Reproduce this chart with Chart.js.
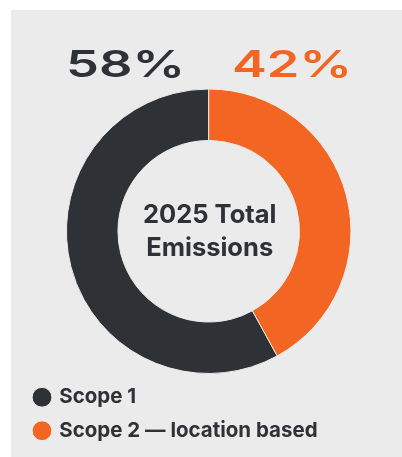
<!DOCTYPE html>
<html>
<head>
<meta charset="utf-8">
<script src="https://cdn.jsdelivr.net/npm/chart.js@4/dist/chart.umd.min.js"></script>
<style>
  html, body { margin: 0; padding: 0; background: #ffffff; }
  #panel { position: absolute; left: 11px; top: 10px; width: 391px; height: 447px; background: #ebebeb; }
  canvas { display: block; }
</style>
</head>
<body>
<div id="panel"><canvas id="c" width="391" height="447"></canvas></div>
<script>
const categories = ['Scope 1', 'Scope 2 \u2014 location based'];
const shares = [58, 42];
const colors = ['#2e3136', '#f26522'];
const centerLines = ['2025 Total', 'Emissions'];

const textDark = '#2e3136';
const panelBg = '#ebebeb';
const total = shares.reduce((a, b) => a + b, 0);

function drawWide(ctx, text, cx, baseline, targetW, font, color) {
  ctx.save();
  ctx.font = font;
  ctx.fillStyle = color;
  ctx.textAlign = 'left';
  ctx.textBaseline = 'alphabetic';
  const w = ctx.measureText(text).width;
  ctx.translate(cx - targetW / 2, baseline);
  ctx.scale(targetW / w, 1);
  ctx.fillText(text, 0, 0);
  ctx.restore();
}

const annotations = {
  id: 'annotations',
  afterDraw(chart) {
    const ctx = chart.ctx;
    const arc = chart.getDatasetMeta(0).data[0];
    const cx = arc.x, cy = arc.y;
    const pctFont = '600 37px Inter';
    drawWide(ctx, shares[0] + '%', 114.5, 67, 119, pctFont, colors[0]);
    drawWide(ctx, shares[1] + '%', 281, 67, 120, pctFont, colors[1]);
    ctx.save();
    ctx.font = '700 25.5px Inter';
    ctx.fillStyle = textDark;
    ctx.textAlign = 'center';
    ctx.textBaseline = 'alphabetic';
    ctx.fillText(centerLines[0], cx + 1, cy - 8.5);
    ctx.fillText(centerLines[1], cx + 1, cy + 24.5);
    ctx.restore();
  }
};

new Chart(document.getElementById('c'), {
  type: 'doughnut',
  data: {
    labels: categories,
    datasets: [{
      data: shares,
      backgroundColor: colors,
      borderColor: panelBg,
      borderWidth: 1,
      hoverOffset: 0
    }]
  },
  options: {
    responsive: false,
    animation: false,
    cutout: '63.8%',
    rotation: -360 * shares[0] / total,
    layout: { padding: { left: 11, right: 6.6, top: 78.5, bottom: 6 } },
    plugins: {
      tooltip: { enabled: false },
      legend: {
        position: 'bottom',
        align: 'start',
        labels: {
          usePointStyle: true,
          pointStyle: 'circle',
          boxWidth: 14,
          boxHeight: 14,
          padding: 13,
          color: textDark,
          font: { family: 'Inter', size: 20.5, weight: '700' }
        }
      }
    }
  },
  plugins: [annotations]
});
</script>
</body>
</html>
